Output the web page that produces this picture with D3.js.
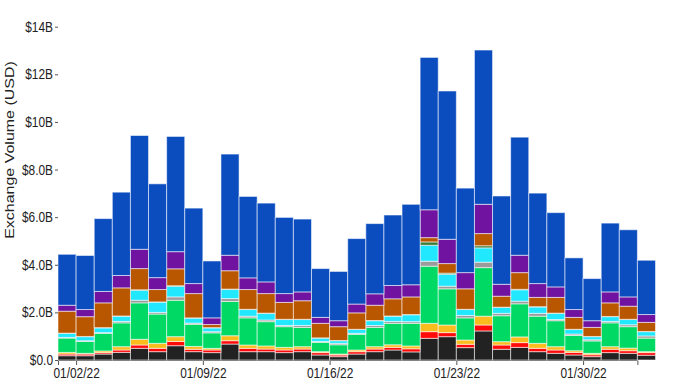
<!DOCTYPE html>
<html>
<head>
<meta charset="utf-8">
<script src="https://cdn.jsdelivr.net/npm/d3@7"></script>
<style>
  html, body { margin: 0; padding: 0; background: #fff; }
  svg { display: block; }
  text { font-family: "Liberation Sans", Arial, Helvetica, sans-serif; fill: #222; }
</style>
</head>
<body>
<svg id="chart" width="678" height="381"></svg>
<script>
// ---- data ----
const dates = [
  "2022-01-01","2022-01-02","2022-01-03","2022-01-04","2022-01-05","2022-01-06","2022-01-07",
  "2022-01-08","2022-01-09","2022-01-10","2022-01-11","2022-01-12","2022-01-13","2022-01-14",
  "2022-01-15","2022-01-16","2022-01-17","2022-01-18","2022-01-19","2022-01-20","2022-01-21",
  "2022-01-22","2022-01-23","2022-01-24","2022-01-25","2022-01-26","2022-01-27","2022-01-28",
  "2022-01-29","2022-01-30","2022-01-31","2022-02-01","2022-02-02"
];
const xTickLabels = ["01/02/22","01/09/22","01/16/22","01/23/22","01/30/22"];
const yTickValues = [0,2,4,6,8,10,12,14];
const yTickLabels = ["$0.0","$2.0B","$4.0B","$6.0B","$8.0B","$10B","$12B","$14B"];
const yTitle = "Exchange Volume (USD)";

// series values in billions USD, stacked bottom -> top
const seriesKeys = ["black","red","gold","green","gray","cyan","darkgreen","brown","purple","blue"];
const seriesColors = ["#222222","#ff0a0a","#fbbc1e","#00d964","#9b9b9b","#22e8ff","#3d7a36","#b95700","#7013a0","#0b4dbf"];

const black = [0.18,0.18,0.25,0.32,0.49,0.35,0.60,0.35,0.31,0.67,0.35,0.35,0.31,0.35,0.21,0.14,0.25,0.35,0.42,0.34,0.91,0.98,0.52,1.22,0.45,0.53,0.35,0.28,0.21,0.14,0.31,0.28,0.20];
const red = [0.07,0.07,0.06,0.10,0.14,0.14,0.18,0.10,0.11,0.14,0.14,0.11,0.11,0.11,0.10,0.07,0.10,0.11,0.11,0.13,0.28,0.17,0.14,0.25,0.18,0.20,0.14,0.14,0.11,0.08,0.14,0.11,0.11];
const gold = [0.07,0.03,0.07,0.14,0.24,0.21,0.20,0.12,0.07,0.21,0.14,0.13,0.11,0.10,0.04,0.04,0.07,0.10,0.11,0.12,0.35,0.32,0.18,0.37,0.14,0.24,0.21,0.14,0.07,0.06,0.11,0.11,0.04];
const green = [0.60,0.50,0.74,1.00,1.53,1.23,1.53,0.93,0.65,1.44,1.14,1.02,0.87,0.81,0.39,0.39,0.66,0.81,0.90,0.95,2.40,1.52,0.93,2.04,1.09,1.39,1.14,1.09,0.64,0.52,1.00,0.90,0.57];
const gray = [0.03,0.03,0.03,0.06,0.11,0.07,0.14,0.05,0.05,0.12,0.07,0.07,0.05,0.08,0.04,0.06,0.04,0.08,0.08,0.07,0.21,0.11,0.10,0.23,0.10,0.11,0.12,0.05,0.06,0.05,0.06,0.08,0.09];
const cyan = [0.17,0.17,0.20,0.22,0.42,0.43,0.45,0.21,0.16,0.38,0.28,0.28,0.25,0.25,0.14,0.11,0.16,0.20,0.22,0.29,0.67,0.50,0.25,0.60,0.25,0.48,0.27,0.26,0.19,0.13,0.20,0.22,0.18];
const darkgreen = [0.01,0.01,0.01,0.01,0.02,0.01,0.02,0.01,0.01,0.02,0.01,0.01,0.01,0.01,0.01,0.01,0.01,0.01,0.01,0.01,0.14,0.05,0.01,0.09,0.01,0.02,0.01,0.01,0.01,0.01,0.01,0.01,0.01];
const brown = [0.92,0.83,1.04,1.18,0.89,0.52,0.71,1.02,0.13,0.77,0.83,0.82,0.71,0.78,0.61,0.58,0.69,0.64,0.72,0.74,0.18,0.40,0.86,0.51,0.46,0.70,0.39,0.66,0.50,0.38,0.57,0.55,0.38];
const purple = [0.25,0.30,0.48,0.52,0.81,0.50,0.72,0.42,0.28,0.65,0.49,0.49,0.37,0.37,0.25,0.25,0.37,0.48,0.56,0.51,1.17,1.02,0.68,1.23,0.50,0.73,0.58,0.44,0.33,0.28,0.46,0.39,0.33];
const blue = [2.14,2.27,3.06,3.50,4.78,3.94,4.84,3.17,2.39,4.25,3.42,3.31,3.20,3.06,2.05,2.07,2.75,2.95,2.96,3.38,6.40,6.23,3.55,6.48,3.71,4.96,3.80,3.12,2.17,1.77,2.89,2.82,2.28];

const seriesValues = {black, red, gold, green, gray, cyan, darkgreen, brown, purple, blue};

// ---- chart ----
const W = 678, H = 381;
const margin = {left: 58, top: 26.7, bottom: 360};
const parseISO = d3.utcParse("%Y-%m-%d");
const parseTick = d3.utcParse("%m/%d/%y");

const rows = dates.map((d, i) => {
  const r = {date: parseISO(d)};
  seriesKeys.forEach(k => r[k] = seriesValues[k][i]);
  return r;
});

const svg = d3.select("#chart");

const x = d3.scaleUtc()
  .domain([parseISO(dates[0]), parseISO(dates[dates.length - 1])])
  .range([58, 637.4]);

const y = d3.scaleLinear().domain([0, 14]).range([360, 26.7]);

const color = d3.scaleOrdinal().domain(seriesKeys).range(seriesColors);

const stacked = d3.stack().keys(seriesKeys)(rows);

// x axis (drawn first so bars sit on top of its domain line)
const xAxis = d3.axisBottom(x)
  .tickValues(xTickLabels.map(parseTick))
  .tickFormat((d, i) => xTickLabels[i])
  .tickSize(5)
  .tickSizeOuter(5)
  .tickPadding(3);

const gx = svg.append("g")
  .attr("transform", "translate(0,360)")
  .call(xAxis);
gx.selectAll("path, line").attr("stroke", "#555");
gx.selectAll("text")
  .attr("font-size", 14)
  .attr("transform", "scale(0.85,1)")
  .attr("x", 0)
  .style("fill", "#222");
// keep the label centred on its tick after horizontal squeeze
gx.selectAll(".tick").each(function() {
  d3.select(this).select("text").attr("text-anchor", "middle");
});

// bars
svg.append("g")
  .selectAll("g")
  .data(stacked)
  .join("g")
  .attr("fill", d => color(d.key))
  .selectAll("rect")
  .data(d => d)
  .join("rect")
  .attr("x", d => x(d.data.date))
  .attr("width", d => x(d3.utcDay.offset(d.data.date, 1)) - x(d.data.date))
  .attr("y", d => y(d[1]))
  .attr("height", d => Math.max(0, y(d[0]) - y(d[1])))
  .attr("stroke", "#ffffff")
  .attr("stroke-opacity", 0.55)
  .attr("stroke-width", 1);

// y axis
const yAxis = d3.axisLeft(y)
  .tickValues(yTickValues)
  .tickFormat((d, i) => yTickLabels[i])
  .tickSize(3)
  .tickPadding(2);

const gy = svg.append("g")
  .attr("transform", "translate(58,0)")
  .call(yAxis);
gy.select(".domain").remove();
gy.selectAll("line").attr("stroke", "#555");
gy.selectAll("text")
  .attr("font-size", 14)
  .attr("x", -5 / 0.85)
  .attr("transform", "scale(0.85,1)")
  .style("fill", "#222");

// y title
svg.append("text")
  .attr("transform", "translate(14,150) rotate(-90) scale(1,0.85)")
  .attr("text-anchor", "middle")
  .attr("font-size", 16)
  .style("fill", "#222")
  .text(yTitle);
</script>
</body>
</html>
